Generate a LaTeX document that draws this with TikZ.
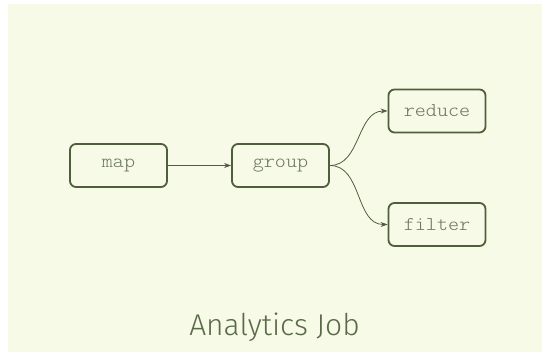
\documentclass[tikz,border=0pt]{standalone}
\usepackage{fontspec}
\setmonofont{Latin Modern Mono Light}[FakeStretch=1.08]
\newfontfamily\titlefont{Fira Sans}[UprightFont=* Light]
\usetikzlibrary{arrows.meta}
\definecolor{paper}{HTML}{F6FAE6}
\definecolor{edge}{HTML}{4F5F3B}
\definecolor{label}{HTML}{6B7560}
\definecolor{heading}{HTML}{5A6B48}
\tikzset{
  stagebox/.style={draw=edge, line width=1.8pt, rounded corners=6pt, fill=paper,
    minimum width=97pt, minimum height=43pt, inner sep=0pt,
    font=\ttfamily\fontsize{19.5}{22}\selectfont, text=label},
  flow/.style={draw=edge, line width=0.8pt, -{Stealth[length=7pt,width=5pt]}}
}
\begin{document}
\begin{tikzpicture}[x=1pt,y=-1pt]
  \useasboundingbox (0,0) rectangle (542,352);
  \fill[paper] (8,4) rectangle (542,352);
  \node[stagebox] (map) at (118.5,165.5) {map};
  \node[stagebox] (group) at (280.5,165.5) {group};
  \node[stagebox] (reduce) at (437,111) {reduce};
  \node[stagebox] (filter) at (437,224.5) {filter};
  \draw[flow] (map) -- (group);
  \draw[flow] (group.east) to[out=0,in=180] (reduce.west);
  \draw[flow] (group.east) to[out=0,in=180] (filter.west);
  \node[font=\titlefont\fontsize{30}{34}\selectfont, text=heading, anchor=base] (title) at (274.5,336) {Analytics Job};
\end{tikzpicture}
\end{document}
